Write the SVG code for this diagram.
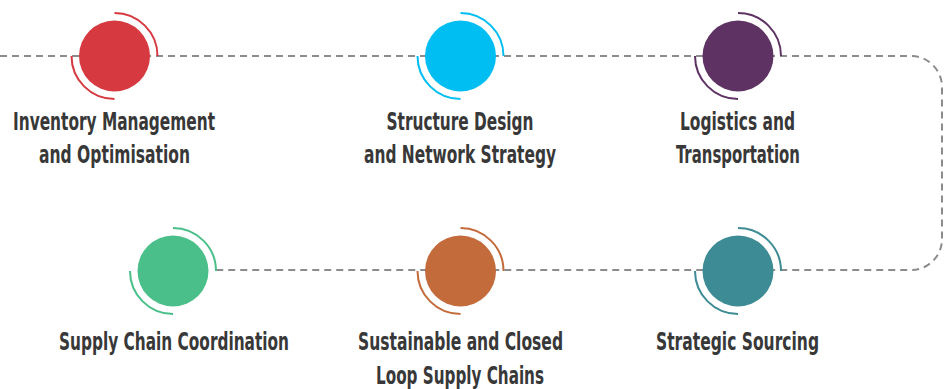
<svg xmlns="http://www.w3.org/2000/svg" width="947" height="389" viewBox="0 0 947 389">
<style>
.conn{fill:none;stroke:#8c8c8c;stroke-width:2;stroke-dasharray:7 5}
.arc{fill:none;stroke-width:2}
.lbl{font-family:"DejaVu Sans Condensed","DejaVu Sans",sans-serif;font-stretch:condensed;font-weight:bold;font-size:24px;fill:#383838;text-anchor:middle}
</style>
<rect width="947" height="389" fill="#ffffff"/>
<g id="connectors">
<path class="conn" d="M0,56 H911 A31,31 0 0 1 942,87 V239 A31,31 0 0 1 911,270 H216"/>
</g>
<g id="node-inventory">
<circle cx="114.5" cy="56" r="35.5" fill="#D6393F"/>
<path class="arc" stroke="#D6393F" d="M114.5,13 A43,43 0 0 1 157.5,56"/>
<path class="arc" stroke="#D6393F" d="M71.5,56 A43,43 0 0 0 114.5,99"/>
<text class="lbl" x="114" y="130" textLength="202" lengthAdjust="spacingAndGlyphs">Inventory Management</text>
<text class="lbl" x="114.5" y="163" textLength="151" lengthAdjust="spacingAndGlyphs">and Optimisation</text>
</g>
<g id="node-structure">
<circle cx="460.5" cy="56" r="35.5" fill="#00BEF2"/>
<path class="arc" stroke="#00BEF2" d="M460.5,13 A43,43 0 0 1 503.5,56"/>
<path class="arc" stroke="#00BEF2" d="M417.5,56 A43,43 0 0 0 460.5,99"/>
<text class="lbl" x="460" y="130" textLength="147" lengthAdjust="spacingAndGlyphs">Structure Design</text>
<text class="lbl" x="460" y="163" textLength="192" lengthAdjust="spacingAndGlyphs">and Network Strategy</text>
</g>
<g id="node-logistics">
<circle cx="738" cy="56" r="35.5" fill="#5E3363"/>
<path class="arc" stroke="#5E3363" d="M738,13 A43,43 0 0 1 781,56"/>
<path class="arc" stroke="#5E3363" d="M695,56 A43,43 0 0 0 738,99"/>
<text class="lbl" x="737.5" y="130" textLength="115" lengthAdjust="spacingAndGlyphs">Logistics and</text>
<text class="lbl" x="738" y="163" textLength="124" lengthAdjust="spacingAndGlyphs">Transportation</text>
</g>
<g id="node-coordination">
<circle cx="173" cy="271" r="35.5" fill="#4BBF8A"/>
<path class="arc" stroke="#4BBF8A" d="M173,228 A43,43 0 0 1 216,271"/>
<path class="arc" stroke="#4BBF8A" d="M130,271 A43,43 0 0 0 173,314"/>
<text class="lbl" x="174" y="350" textLength="230" lengthAdjust="spacingAndGlyphs">Supply Chain Coordination</text>
</g>
<g id="node-sustainable">
<circle cx="460.5" cy="271" r="35.5" fill="#C46B3C"/>
<path class="arc" stroke="#C46B3C" d="M460.5,228 A43,43 0 0 1 503.5,271"/>
<path class="arc" stroke="#C46B3C" d="M417.5,271 A43,43 0 0 0 460.5,314"/>
<text class="lbl" x="460.5" y="350" textLength="205" lengthAdjust="spacingAndGlyphs">Sustainable and Closed</text>
<text class="lbl" x="460" y="384" textLength="168" lengthAdjust="spacingAndGlyphs">Loop Supply Chains</text>
</g>
<g id="node-sourcing">
<circle cx="738" cy="271" r="35.5" fill="#3D8B94"/>
<path class="arc" stroke="#3D8B94" d="M738,228 A43,43 0 0 1 781,271"/>
<path class="arc" stroke="#3D8B94" d="M695,271 A43,43 0 0 0 738,314"/>
<text class="lbl" x="737.5" y="350" textLength="163" lengthAdjust="spacingAndGlyphs">Strategic Sourcing</text>
</g>
</svg>
